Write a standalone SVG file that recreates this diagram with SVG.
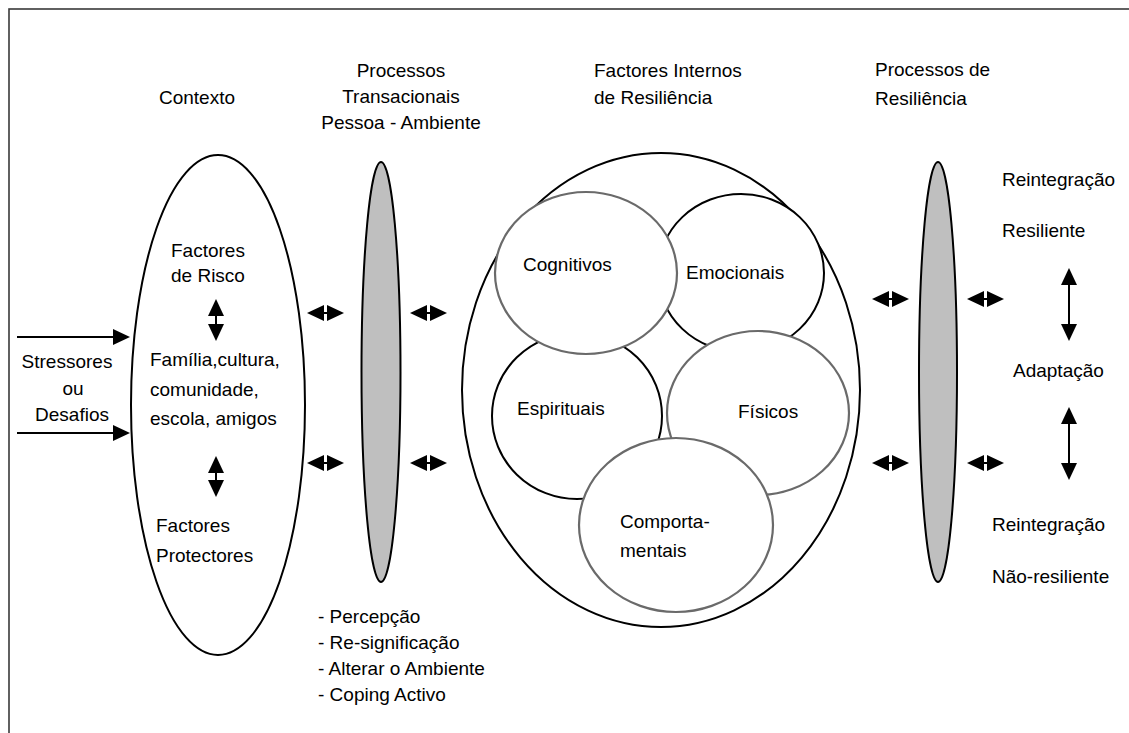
<svg xmlns="http://www.w3.org/2000/svg" width="1129" height="733" viewBox="0 0 1129 733">
  <style>
    text { font-family: "Liberation Sans", Arial, sans-serif; font-size: 19px; fill: #000; }
    .mid { text-anchor: middle; }
    .outline { fill: #fff; stroke: #000; stroke-width: 2; }
    .soft { fill: #fff; stroke: #6a6a6a; stroke-width: 2.2; }
    .band { fill: #bfbfbf; stroke: #000; stroke-width: 2; }
    .link { fill: none; stroke: #000; stroke-width: 2; marker-start: url(#head); marker-end: url(#head); }
    .push { fill: none; stroke: #000; stroke-width: 2; marker-end: url(#head); }
  </style>
  <defs>
    <marker id="head" markerUnits="userSpaceOnUse" markerWidth="17" markerHeight="16" refX="7" refY="8" orient="auto-start-reverse" viewBox="0 0 17 16">
      <path d="M0,0 L17,8 L0,16 Z" fill="#000"/>
    </marker>
  </defs>

  <!-- page frame -->
  <rect x="9" y="9" width="1130" height="740" fill="#fff" stroke="#3a3a3a" stroke-width="1.6"/>

  <!-- column headings -->
  <g id="headings">
    <text x="197" y="104" class="mid">Contexto</text>
    <text x="401" y="77" class="mid">Processos</text>
    <text x="401" y="103" class="mid">Transacionais</text>
    <text x="401" y="129" class="mid">Pessoa - Ambiente</text>
    <text x="594" y="77">Factores Internos</text>
    <text x="594" y="104">de Resiliência</text>
    <text x="875" y="76">Processos de</text>
    <text x="875" y="105">Resiliência</text>
  </g>

  <g id="stressores">
    <text x="67" y="368" class="mid">Stressores</text>
    <text x="73" y="395" class="mid">ou</text>
    <text x="72" y="421" class="mid">Desafios</text>
  </g>

  <g id="contexto">
    <ellipse cx="218" cy="405" rx="87" ry="250" class="outline"/>
    <text x="171" y="257">Factores</text>
    <text x="171" y="282">de Risco</text>
    <text x="150" y="366">Família,cultura,</text>
    <text x="150" y="396">comunidade,</text>
    <text x="150" y="425">escola, amigos</text>
    <text x="156" y="532">Factores</text>
    <text x="156" y="562">Protectores</text>
  </g>

  <g id="processos-transacionais">
    <ellipse cx="381" cy="372" rx="19.5" ry="210" class="band"/>
    <text x="318" y="623">- Percepção</text>
    <text x="318" y="649">- Re-significação</text>
    <text x="318" y="675">- Alterar o Ambiente</text>
    <text x="318" y="701">- Coping Activo</text>
  </g>

  <g id="factores-internos">
    <ellipse cx="661" cy="390" rx="199" ry="237" class="outline"/>
    <g id="emocionais">
      <ellipse cx="741" cy="273" rx="83" ry="79" class="outline"/>
      <text x="686" y="279">Emocionais</text>
    </g>
    <g id="espirituais">
      <ellipse cx="577" cy="416" rx="85" ry="83" class="outline"/>
      <text x="517" y="415">Espirituais</text>
    </g>
    <g id="cognitivos">
      <ellipse cx="586" cy="273" rx="91" ry="81" class="soft"/>
      <text x="523" y="271">Cognitivos</text>
    </g>
    <g id="fisicos">
      <ellipse cx="758" cy="413" rx="91" ry="82" class="soft"/>
      <text x="738" y="418">Físicos</text>
    </g>
    <g id="comportamentais">
      <ellipse cx="676" cy="525" rx="97" ry="87" class="soft"/>
      <text x="620" y="528">Comporta-</text>
      <text x="620" y="557">mentais</text>
    </g>
  </g>

  <g id="processos-resiliencia">
    <ellipse cx="938" cy="372" rx="19" ry="210" class="band"/>
  </g>

  <g id="resultados">
    <text x="1002" y="186">Reintegração</text>
    <text x="1002" y="237">Resiliente</text>
    <text x="1013" y="377">Adaptação</text>
    <text x="992" y="531">Reintegração</text>
    <text x="992" y="583">Não-resiliente</text>
  </g>

  <!-- connectors -->
  <g id="connectors">
    <line x1="17" y1="337" x2="120" y2="337" class="push"/>
    <line x1="17" y1="433" x2="120" y2="433" class="push"/>

    <line x1="216" y1="309" x2="216" y2="331" class="link"/>
    <line x1="216" y1="466" x2="216" y2="487" class="link"/>

    <line x1="317" y1="313" x2="334" y2="313" class="link"/>
    <line x1="317" y1="463" x2="334" y2="463" class="link"/>
    <line x1="420" y1="313" x2="437" y2="313" class="link"/>
    <line x1="420" y1="463" x2="437" y2="463" class="link"/>

    <line x1="882" y1="299" x2="899" y2="299" class="link"/>
    <line x1="882" y1="463" x2="899" y2="463" class="link"/>
    <line x1="977" y1="299" x2="994" y2="299" class="link"/>
    <line x1="977" y1="463" x2="994" y2="463" class="link"/>

    <line x1="1069" y1="278" x2="1069" y2="331" class="link"/>
    <line x1="1069" y1="417" x2="1069" y2="470" class="link"/>
  </g>
</svg>
